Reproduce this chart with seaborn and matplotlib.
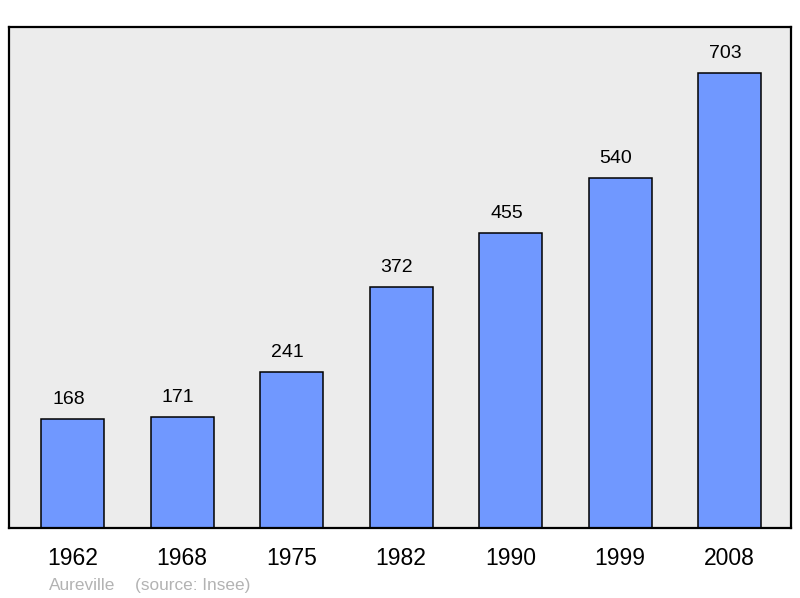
import pandas as pd
import matplotlib.pyplot as plt
import seaborn as sns

sns.set_theme(style="white")
plt.rcParams["font.family"] = ["Liberation Sans", "DejaVu Sans"]

years = ["1962", "1968", "1975", "1982", "1990", "1999", "2008"]
population = [168, 171, 241, 372, 455, 540, 703]
commune = "Aureville"
source = "(source: Insee)"

data = pd.DataFrame({"Year": years, "Population": population})

fig = plt.figure(figsize=(8, 5.98), dpi=100)
ax = fig.add_axes([9 / 800, 70 / 598, 782 / 800, 501 / 598])
ax.set_facecolor("#ececec")

sns.barplot(data=data, x="Year", y="Population", order=years,
            color="#7098ff", saturation=1, width=0.575,
            edgecolor="black", linewidth=1.1, ax=ax)

for i, v in enumerate(population):
    ax.annotate(str(v), (i, v), xytext=(-3, 8), textcoords="offset points",
                ha="center", va="bottom", fontsize=14, color="black")

ax.set_xlim(-0.58, 6.56)
ax.set_ylim(0, 774)
ax.set_yticks([])
ax.set_xlabel("")
ax.set_ylabel("")
ax.tick_params(axis="x", length=0, pad=14, labelsize=16.5, colors="black")

for s in ax.spines.values():
    s.set_visible(True)
    s.set_color("black")
    s.set_linewidth(1.6)

fig.text(49 / 800, 1 - 590 / 598, commune, fontsize=12.4, color="#b3b3b3")
fig.text(135 / 800, 1 - 590 / 598, source, fontsize=12.4, color="#b3b3b3")

fig.savefig("out.png", dpi=100, facecolor="white")
